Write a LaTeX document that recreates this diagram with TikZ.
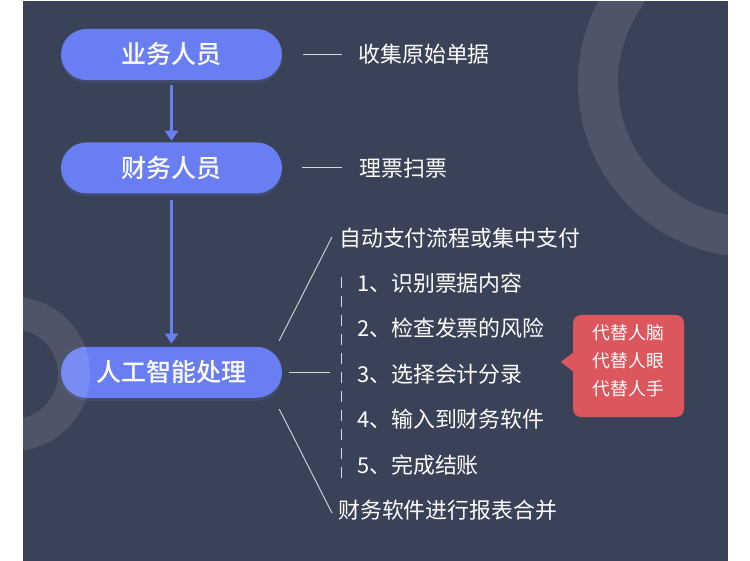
\documentclass[tikz,border=0pt]{standalone}
\usepackage{fontspec}
\setmainfont{Noto Sans CJK SC}
\newfontfamily\pillfamily{Noto Sans CJK SC Medium}
\usetikzlibrary{arrows.meta,positioning,shadows}

\definecolor{bgdark}{HTML}{3A4257}
\definecolor{pillblue}{HTML}{6A7EF4}
\definecolor{tipred}{HTML}{DB575D}
\definecolor{linegray}{HTML}{D5D8DF}

\begin{document}
\begin{tikzpicture}[x=1pt,y=-1pt,>={Triangle[width=13pt,length=10pt]},node distance=62pt]
  \tikzstyle{pill}=[fill=pillblue,rounded corners=25.5pt,minimum width=221pt,minimum height=51pt,
    text=white,font=\fontsize{25pt}{30pt}\pillfamily\selectfont,
    drop shadow={shadow xshift=0pt,shadow yshift=-3pt,fill=pillblue!60!bgdark,opacity=0.25}]
  \tikzstyle{note}=[text=white,inner sep=0pt,font=\fontsize{21.9pt}{26pt}\selectfont]
  \tikzstyle{thinline}=[draw=linegray,line width=0.9pt]
  \tikzstyle{arrowline}=[draw=pillblue,line width=3.5pt]
  \tikzstyle{ring}=[draw=white,draw opacity=0.1]

  \useasboundingbox (0,0) rectangle (750,561);
  \fill[bgdark] (23,1) rectangle (728,561);
  \begin{scope}
    \clip (23,1) rectangle (728,561);
    \draw[ring,line width=40pt] (752,83) circle [radius=154];
  \end{scope}

  % flow
  \node[pill] (ywry) at (171.5,54.5) {业务人员};
  \node[pill,below=of ywry] (cwry) {财务人员};
  \node[pill,below=153pt of cwry] (ai) {人工智能处理};

  \draw[arrowline,->,shorten <=5pt,shorten >=1.5pt] (ywry) -- (cwry);
  \draw[arrowline,->,shorten <=6pt,shorten >=3pt] (cwry) -- (ai);

  % notes
  \node[note,right=76pt of ywry] (shouji) {收集原始单据};
  \node[note,right=77pt of cwry] (lipiao) {理票扫票};
  \draw[thinline,shorten <=21pt,shorten >=16pt] (ywry.east) -- (shouji.west);
  \draw[thinline,shorten <=20pt,shorten >=17pt] (cwry.east) -- (lipiao.west);

  \node[note,anchor=west] (zdzf) at (339,238) {自动支付流程或集中支付};
  \foreach \t [count=\i] in {识别票据内容,检查发票的风险,选择会计分录,输入到财务软件,完成结账}
    \node[note,anchor=west] (item\i) at (357,{283+45.5*(\i-1)}) {\i、\t};
  \node[note,anchor=west] (hebing) at (338,510) {财务软件进行报表合并};

  \coordinate (dtop) at (341,277);
  \coordinate (dbot) at (341,478);
  \draw[thinline,dash pattern=on 11pt off 8pt] (dtop) -- (dbot);
  \draw[thinline,shorten <=7pt,shorten >=11pt] (ai.east) -- (ai.east -| dtop);
  \draw[thinline] ([xshift=-3pt,yshift=6pt]ai.north east) -- ([xshift=-7pt,yshift=1pt]zdzf.west);
  \draw[thinline] ([xshift=-3pt,yshift=-11pt]ai.south east) -- ([xshift=-6pt,yshift=-3pt]hebing.west);

  % callout
  \node[fill=tipred,rounded corners=8pt,minimum width=111pt,minimum height=102pt] (tidai) at (628.5,366) {};
  \fill[tipred] ([xshift=1pt,yshift=14pt]tidai.west) -- ([xshift=-12pt,yshift=4pt]tidai.west)
    -- ([xshift=1pt,yshift=-6pt]tidai.west) -- cycle;
  \node[text=white,align=center,font=\fontsize{17.8pt}{28pt}\selectfont] (tidaitext)
    at ([yshift=5pt]tidai.center) {代替人脑\\代替人眼\\代替人手};

  \begin{scope}
    \clip (23,1) rectangle (728,561);
    \draw[ring,line width=32pt] (13,374) circle [radius=61];
  \end{scope}
\end{tikzpicture}
\end{document}
